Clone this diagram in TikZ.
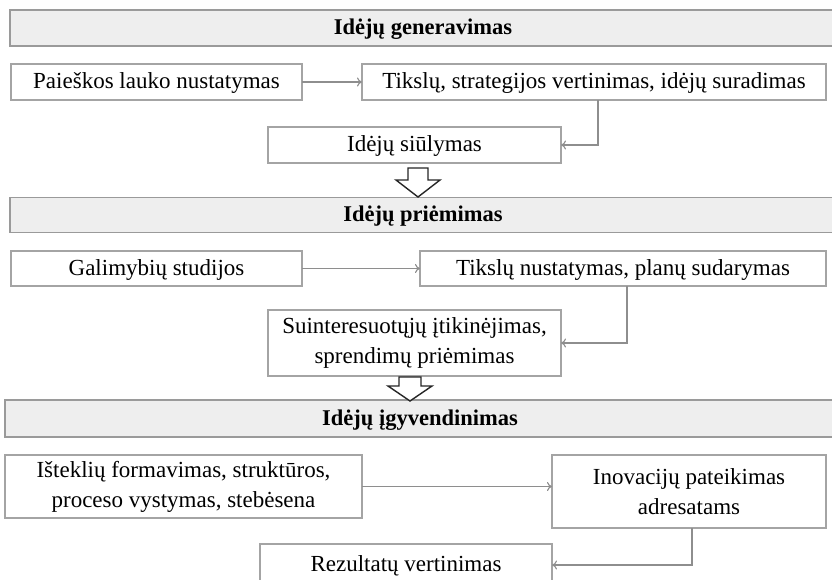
\documentclass[tikz,border=0pt]{standalone}
\usepackage{fontspec}
\setmainfont{Liberation Serif}
\usetikzlibrary{arrows.meta}
\definecolor{boxline}{HTML}{A4A4A4}
\definecolor{headfill}{HTML}{EEEEEE}
\definecolor{headline}{HTML}{9A9A9A}
\definecolor{connline}{HTML}{8E8E8E}
\begin{document}
\begin{tikzpicture}[x=1pt,y=-1pt,
  every node/.style={inner sep=0pt, outer sep=0pt, font=\fontsize{23}{30}\selectfont, align=center},
  oneline/.style={text height=17pt, text depth=4pt},
  stagebar/.style={oneline, draw=headline, fill=headfill, line width=1.3pt, font=\fontsize{22.5}{30}\selectfont\bfseries},
  stepbox/.style={draw=boxline, fill=white, line width=1.2pt},
  conn/.style={draw=connline, line width=1.1pt, -{To[length=5pt,width=9pt]}},
  blockarrow/.style={draw=black!85, fill=white, line width=1.4pt, line join=miter}]
\useasboundingbox (0,0) rectangle (832,579);
\fill[white] (0,0) rectangle (832,579);

% stage 1
\node[stagebar, minimum width=826pt, minimum height=36pt] (h1) at (423,28) {Idėjų generavimas};
\node[stepbox, oneline, minimum width=291pt, minimum height=36pt] (p1) at (156.5,82) {Paieškos lauko nustatymas};
\node[stepbox, oneline, minimum width=464pt, minimum height=36pt] (t1) at (594,82) {Tikslų, strategijos vertinimas, idėjų suradimas};
\node[stepbox, oneline, minimum width=293pt, minimum height=36pt] (s1) at (414.5,145) {Idėjų siūlymas};
\coordinate (c1) at (598,0);
\draw[conn] (p1.east) -- (t1.west);
\draw[conn] (t1.south -| c1) |- (s1.east);

% stage 2
\node[stagebar, minimum width=826pt, minimum height=35pt] (h2) at (423,215) {Idėjų priėmimas};
\node[stepbox, oneline, minimum width=291pt, minimum height=35pt] (g2) at (156.5,268.5) {Galimybių studijos};
\node[stepbox, oneline, minimum width=406pt, minimum height=35pt] (t2) at (623,268.5) {Tikslų nustatymas, planų sudarymas};
\node[stepbox, minimum width=293pt, minimum height=66pt] (s2) at (414.5,343) {Suinteresuotųjų įtikinėjimas,\\sprendimų priėmimas};
\coordinate (c2) at (627,0);
\draw[conn] (g2.east) -- (t2.west);
\draw[conn] (t2.south -| c2) |- (s2.east);

% stage 3
\node[stagebar, minimum width=830pt, minimum height=37pt] (h3) at (420,418.5) {Idėjų įgyvendinimas};
\node[stepbox, minimum width=357pt, minimum height=63pt] (i3) at (183.5,486.5) {Išteklių formavimas, struktūros,\\proceso vystymas, stebėsena};
\node[stepbox, minimum width=274pt, minimum height=73pt] (v3) at (689,491.5) {Inovacijų pateikimas\\adresatams};
\node[stepbox, oneline, minimum width=292pt, minimum height=42pt] (r3) at (406,565) {Rezultatų vertinimas};
\coordinate (c3) at (692,0);
\draw[conn] (i3.east) -- (v3.west |- i3.east);
\draw[conn] (v3.south -| c3) |- (r3.east);

% hollow arrows between the stages
\draw[blockarrow] (408,168) -- (428,168) -- (428,180) -- (440,180) -- (418,197)
  -- (396,180) -- (408,180) -- cycle;
\draw[blockarrow] (399,377) -- (421,377) -- (421,386) -- (432,386) -- (410,401)
  -- (388,386) -- (399,386) -- cycle;
\end{tikzpicture}
\end{document}
